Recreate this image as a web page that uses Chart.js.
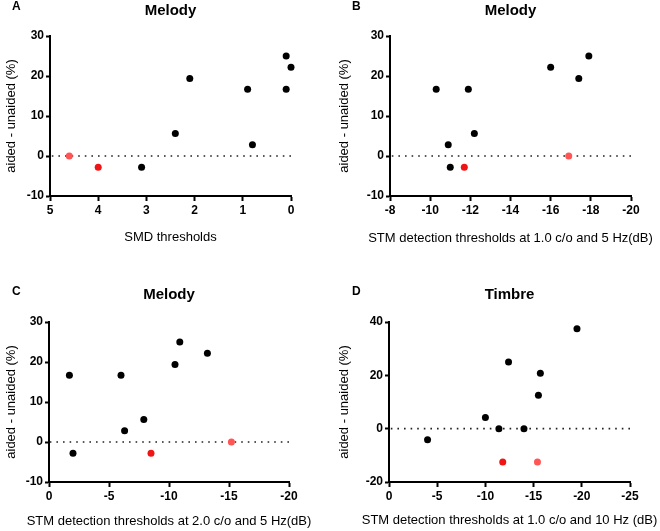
<!DOCTYPE html>
<html>
<head>
<meta charset="utf-8">
<script src="https://cdn.jsdelivr.net/npm/chart.js@4"></script>
<style>
  html, body { margin: 0; padding: 0; background: #fff; }
  #wrap { position: relative; width: 660px; height: 531px; }
  canvas { position: absolute; }
</style>
</head>
<body>
<div id="wrap">
  <canvas id="chartA" width="330" height="265" style="left:0;top:0"></canvas>
  <canvas id="chartB" width="330" height="265" style="left:330px;top:0"></canvas>
  <canvas id="chartC" width="330" height="266" style="left:0;top:265px"></canvas>
  <canvas id="chartD" width="330" height="266" style="left:330px;top:265px"></canvas>
</div>
<script>
Chart.defaults.font.family = '"Liberation Sans", Arial, sans-serif';
Chart.defaults.color = "#000";

// A: melody vs SMD thresholds
const aBlackX = [3.1, 2.4, 2.1, 0.9, 0.8, 0.1, 0.1, 0.0];
const aBlackY = [-2.8, 5.6, 19.4, 16.7, 2.8, 25.0, 16.7, 22.2];
const aRedX = [4.0];
const aRedY = [-2.8];
const aPinkX = [4.6];
const aPinkY = [0];

// B: melody vs STM 1.0 c/o, 5 Hz
const bBlackX = [-10.3, -10.9, -11.0, -11.9, -12.2, -16.0, -17.4, -17.9];
const bBlackY = [16.7, 2.8, -2.8, 16.7, 5.6, 22.2, 19.4, 25.0];
const bRedX = [-11.7];
const bRedY = [-2.8];
const bPinkX = [-16.9];
const bPinkY = [0];

// C: melody vs STM 2.0 c/o, 5 Hz
const cBlackX = [-1.7, -2.0, -6.0, -6.3, -7.9, -10.5, -10.9, -13.2];
const cBlackY = [16.7, -2.8, 16.7, 2.8, 5.6, 19.4, 25.0, 22.2];
const cRedX = [-8.5];
const cRedY = [-2.8];
const cPinkX = [-15.2];
const cPinkY = [0];

// D: timbre vs STM 1.0 c/o, 10 Hz
const dBlackX = [-4.0, -10.0, -11.4, -12.4, -14.0, -15.5, -15.7, -19.5];
const dBlackY = [-4.2, 4.2, 0, 25.0, 0, 12.5, 20.8, 37.5];
const dRedX = [-11.8];
const dRedY = [-12.5];
const dPinkX = [-15.4];
const dPinkY = [-12.5];

// axis ranges / ticks
const aXRange = [0, 5, 1];
const bXRange = [-20, -8, 2];
const cXRange = [-20, 0, 5];
const dXRange = [-25, 0, 5];
const melodyYRange = [-10, 30, 10];
const timbreYRange = [-20, 40, 20];

const pairUp = (xs, ys) => xs.map((x, i) => ({ x: x, y: ys[i] }));

// panel letter + x axis title (the built-in one squeezes long text to the chart width)
const panelText = {
  id: "panelText",
  afterDraw(chart, args, opts) {
    const ctx = chart.ctx;
    const area = chart.chartArea;
    ctx.save();
    ctx.fillStyle = "#000";
    ctx.textBaseline = "middle";
    ctx.font = 'bold 12px "Liberation Sans", Arial, sans-serif';
    ctx.fillText(opts.letter, opts.lx, opts.ly);
    ctx.font = '13px "Liberation Sans", Arial, sans-serif';
    ctx.textAlign = "center";
    ctx.fillText(opts.xTitle, (area.left + area.right) / 2, opts.xTitleY);
    ctx.restore();
  },
};

function makePanel(id, p) {
  const ctx = document.getElementById(id).getContext("2d");
  const dot = (data, color) => ({
    data: data,
    backgroundColor: color,
    borderColor: color,
    pointRadius: 3.5,
    pointHoverRadius: 3.5,
    borderWidth: 0,
    clip: false,
    order: 1,
  });
  new Chart(ctx, {
    type: "scatter",
    data: {
      datasets: [
        {
          // dotted zero line
          data: [{ x: p.xr[0], y: 0 }, { x: p.xr[1], y: 0 }],
          showLine: true,
          borderColor: "#222",
          borderWidth: 1.6,
          borderDash: [1.6, 5],
          pointRadius: 0,
          clip: false,
          order: 10,
        },
        dot(p.black, "#000"),
        dot(p.red, "#f01414"),
        dot(p.pink, "#ff5555"),
      ],
    },
    options: {
      responsive: false,
      animation: false,
      events: [],
      layout: { padding: { left: 0, right: p.right, top: 0, bottom: 0 } },
      plugins: {
        legend: { display: false },
        tooltip: { enabled: false },
        title: {
          display: true,
          text: p.title,
          fullSize: false,
          font: { size: 15, weight: "bold" },
          padding: { top: p.titleTop, bottom: p.titleBottom },
        },
        panelText: { letter: p.letter, lx: p.lx, ly: p.ly, xTitle: p.xTitle, xTitleY: p.xTitleY },
      },
      scales: {
        x: {
          type: "linear",
          reverse: true,
          min: p.xr[0],
          max: p.xr[1],
          afterFit: (s) => { s.height = p.xh; },
          ticks: {
            stepSize: p.xr[2],
            padding: 2,
            font: { size: 12, weight: "bold" },
          },
          grid: { drawOnChartArea: false, tickLength: 5, tickWidth: 2, color: "#000" },
          border: { color: "#000", width: 2 },
        },
        y: {
          type: "linear",
          min: p.yr[0],
          max: p.yr[1],
          afterFit: (s) => { s.width = p.yw; },
          ticks: {
            stepSize: p.yr[2],
            padding: 2,
            font: { size: 12, weight: "bold" },
          },
          grid: { drawOnChartArea: false, tickLength: 4, tickWidth: 2, color: "#000" },
          border: { color: "#000", width: 2 },
          title: {
            display: true,
            text: "aided - unaided (%)",
            font: { size: 13 },
            padding: { top: p.yTitleTop, bottom: 0 },
          },
        },
      },
    },
    plugins: [panelText],
  });
}

makePanel("chartA", {
  letter: "A", lx: 12, ly: 7,
  title: "Melody", titleTop: 2, titleBottom: 16,
  xTitle: "SMD thresholds", xTitleY: 237, xh: 69,
  yw: 50, right: 39, yTitleTop: 4,
  xr: aXRange, yr: melodyYRange,
  black: pairUp(aBlackX, aBlackY), red: pairUp(aRedX, aRedY), pink: pairUp(aPinkX, aPinkY),
});

makePanel("chartB", {
  letter: "B", lx: 22, ly: 7,
  title: "Melody", titleTop: 2, titleBottom: 16,
  xTitle: "STM detection thresholds at 1.0 c/o and 5 Hz(dB)", xTitleY: 238, xh: 69,
  yw: 60, right: 29, yTitleTop: 7,
  xr: bXRange, yr: melodyYRange,
  black: pairUp(bBlackX, bBlackY), red: pairUp(bRedX, bRedY), pink: pairUp(bPinkX, bPinkY),
});

makePanel("chartC", {
  letter: "C", lx: 12, ly: 27,
  title: "Melody", titleTop: 21, titleBottom: 18,
  xTitle: "STM detection thresholds at 2.0 c/o and 5 Hz(dB)", xTitleY: 256, xh: 49,
  yw: 49, right: 41, yTitleTop: 4,
  xr: cXRange, yr: melodyYRange,
  black: pairUp(cBlackX, cBlackY), red: pairUp(cRedX, cRedY), pink: pairUp(cPinkX, cPinkY),
});

makePanel("chartD", {
  letter: "D", lx: 22, ly: 27,
  title: "Timbre", titleTop: 21, titleBottom: 18,
  xTitle: "STM detection thresholds at 1.0 c/o and 10 Hz (dB)", xTitleY: 255, xh: 49,
  yw: 59, right: 30, yTitleTop: 7,
  xr: dXRange, yr: timbreYRange,
  black: pairUp(dBlackX, dBlackY), red: pairUp(dRedX, dRedY), pink: pairUp(dPinkX, dPinkY),
});
</script>
</body>
</html>
